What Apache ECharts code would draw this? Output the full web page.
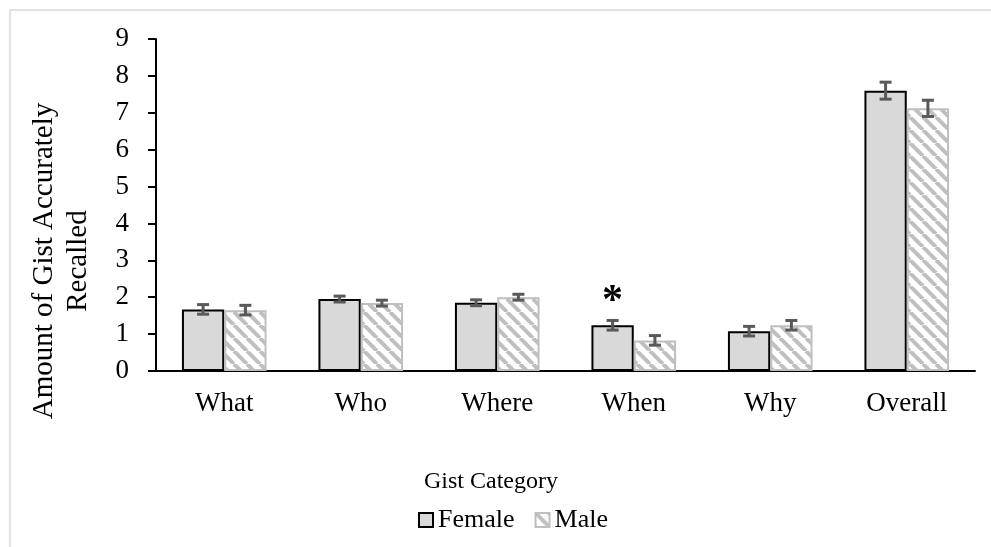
<!DOCTYPE html>
<html>
<head>
<meta charset="utf-8">
<script src="https://cdn.jsdelivr.net/npm/echarts@6/dist/echarts.min.js"></script>
<style>
  html, body { margin: 0; padding: 0; background: #fff; }
  #chart { width: 991px; height: 547px; }
</style>
</head>
<body>
<div id="chart"></div>
<script>
const categories = ["What", "Who", "Where", "When", "Why", "Overall"];
const femaleMeans = [1.67, 1.95, 1.85, 1.24, 1.08, 7.60];
const femaleErrors = [0.13, 0.08, 0.08, 0.13, 0.13, 0.23];
const maleMeans = [1.65, 1.84, 2.00, 0.83, 1.24, 7.12];
const maleErrors = [0.13, 0.08, 0.08, 0.13, 0.13, 0.22];
const yTicks = [0, 9, 1]; // min, max, interval
const starCategory = "When";

const FONT = "Liberation Serif";
const GAP = 0.38;

// diagonal stripe fill for the male bars
function stripes() {
  const c = document.createElement("canvas");
  const s = 13;
  c.width = s;
  c.height = s;
  const ctx = c.getContext("2d");
  ctx.fillStyle = "#fff";
  ctx.fillRect(0, 0, s, s);
  ctx.strokeStyle = "#bfbfbf";
  ctx.lineWidth = 4;
  for (let x = -s; x <= s; x += s) {
    ctx.beginPath();
    ctx.moveTo(x, 0);
    ctx.lineTo(x + s, s);
    ctx.stroke();
  }
  return c;
}

function errorBars(sign) {
  return function (params, api) {
    const i = api.value(0);
    const v = api.value(1);
    const e = api.value(2);
    const catW = api.size([1, 0])[0];
    const bw = catW * (1 - GAP) / 2;
    const x = api.coord([i, v])[0] + sign * bw / 2;
    const top = api.coord([i, v + e])[1];
    const bot = api.coord([i, v - e])[1];
    const style = { stroke: "#595959", lineWidth: 3 };
    return {
      type: "group",
      children: [
        { type: "line", shape: { x1: x, y1: top, x2: x, y2: bot }, style: style },
        { type: "line", shape: { x1: x - 6, y1: top, x2: x + 6, y2: top }, style: style },
        { type: "line", shape: { x1: x - 6, y1: bot, x2: x + 6, y2: bot }, style: style }
      ]
    };
  };
}

const femaleData = femaleMeans.map(function (v, i) {
  if (categories[i] !== starCategory) return v;
  return {
    value: v,
    label: {
      show: true,
      position: "top",
      distance: 2,
      formatter: "*",
      fontFamily: FONT,
      fontSize: 42,
      fontWeight: "bold",
      color: "#000"
    }
  };
});

const chart = echarts.init(document.getElementById("chart"));

chart.setOption({
  animation: false,
  backgroundColor: "#fff",
  textStyle: { fontFamily: FONT, color: "#000" },
  grid: { left: 156, right: 16, top: 39, bottom: 176 },
  legend: {
    data: ["Female", "Male"],
    left: 413,
    top: 502,
    icon: "rect",
    itemWidth: 14,
    itemHeight: 14,
    itemGap: 20,
    textStyle: { fontFamily: FONT, fontSize: 26, color: "#000" }
  },
  graphic: [
    {
      type: "rect",
      shape: { x: 10, y: 10, width: 1200, height: 800 },
      style: { fill: "none", stroke: "#d9d9d9", lineWidth: 1.5 },
      silent: true
    },
    {
      type: "text",
      x: 61,
      y: 261,
      rotation: Math.PI / 2,
      style: {
        text: "Amount of Gist Accurately\nRecalled",
        font: "29px " + FONT,
        fill: "#000",
        textAlign: "center",
        textVerticalAlign: "middle",
        lineHeight: 34
      }
    },
    {
      type: "text",
      x: 491,
      y: 482,
      style: {
        text: "Gist Category",
        font: "24px " + FONT,
        fill: "#000",
        textAlign: "center",
        textVerticalAlign: "middle"
      }
    }
  ],
  xAxis: {
    type: "category",
    data: categories,
    axisLine: { lineStyle: { color: "#000", width: 2 } },
    axisTick: { show: false },
    axisLabel: { fontFamily: FONT, fontSize: 27, color: "#000", margin: 19 }
  },
  yAxis: {
    type: "value",
    min: yTicks[0],
    max: yTicks[1],
    interval: yTicks[2],
    axisLine: { show: true, lineStyle: { color: "#000", width: 2 } },
    axisTick: { show: true, length: 8, lineStyle: { color: "#000", width: 2 } },
    splitLine: { show: false },
    axisLabel: { fontFamily: FONT, fontSize: 27, color: "#000", margin: 27 }
  },
  series: [
    {
      name: "Female",
      type: "bar",
      data: femaleData,
      barGap: 0,
      barCategoryGap: GAP * 100 + "%",
      itemStyle: { color: "#d9d9d9", borderColor: "#000", borderWidth: 2 }
    },
    {
      name: "Male",
      type: "bar",
      data: maleMeans,
      itemStyle: {
        color: { image: stripes(), repeat: "repeat" },
        borderColor: "#bfbfbf",
        borderWidth: 2
      }
    },
    {
      type: "custom",
      renderItem: errorBars(-1),
      data: femaleMeans.map(function (v, i) { return [i, v, femaleErrors[i]]; }),
      z: 5
    },
    {
      type: "custom",
      renderItem: errorBars(1),
      data: maleMeans.map(function (v, i) { return [i, v, maleErrors[i]]; }),
      z: 5
    }
  ]
});
</script>
</body>
</html>
